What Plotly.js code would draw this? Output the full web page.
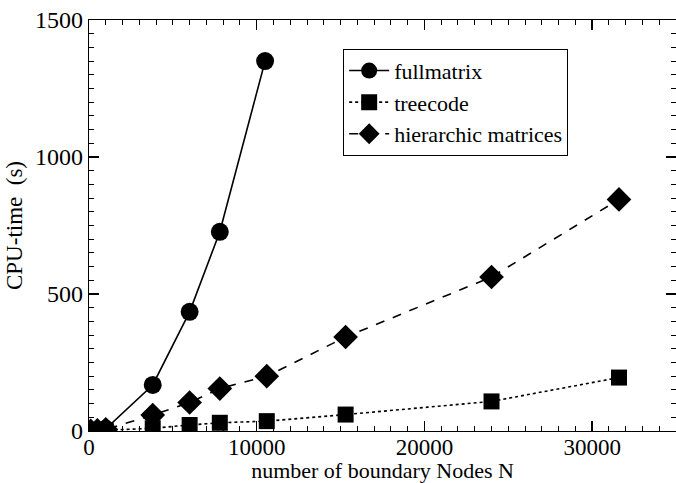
<!DOCTYPE html>
<html>
<head>
<meta charset="utf-8">
<script src="https://cdn.plot.ly/plotly-3.0.1.min.js"></script>
<style>html,body{margin:0;padding:0;background:#fff;}#chart{width:676px;height:483px;}</style>
</head>
<body>
<div id="chart"></div>
<script>
// Data
const fullN = [100, 500, 1000, 3800, 6000, 7800, 10500];
const fullT = [0.2, 2, 8, 168, 435, 727, 1350];
const treeN = [100, 500, 1000, 3800, 6000, 7800, 10600, 15300, 24000, 31600];
const treeT = [0.2, 1, 2, 10, 22, 30, 36, 60, 108, 195];
const hierN = [100, 500, 1000, 3800, 6000, 7800, 10600, 15300, 24000, 31600];
const hierT = [0.5, 2, 6, 58, 104, 155, 200, 343, 562, 845];
const names = ["fullmatrix", "treecode", "hierarchic matrices"];
const xTicks = [0, 10000, 20000, 30000];
const xTickText = ["0", "10000", "20000", "30000"];
const yTicks = [0, 500, 1000, 1500];

const font = "Liberation Serif";

const traces = [
  {x: fullN, y: fullT, name: names[0], mode: "lines+markers",
   line: {color: "#000", width: 1.6, dash: "solid"},
   marker: {symbol: "circle", size: 18, color: "#000"}},
  {x: treeN, y: treeT, name: names[1], mode: "lines+markers",
   line: {color: "#000", width: 1.6, dash: "dot"},
   marker: {symbol: "square", size: 16, color: "#000"}},
  {x: hierN, y: hierT, name: names[2], mode: "lines+markers",
   line: {color: "#000", width: 1.6, dash: "dash"},
   marker: {symbol: "diamond", size: 19, color: "#000"}}
];

const axisCommon = {
  showgrid: false, zeroline: false, showline: true, linecolor: "#000", linewidth: 1.3,
  ticks: "inside", ticklen: 10, tickwidth: 1.3, tickcolor: "#000", mirror: "allticks",
  tickfont: {family: font, size: 24, color: "#000"}, automargin: false
};

const layout = {
  width: 676, height: 483,
  margin: {l: 89, r: 0, t: 20, b: 52},
  paper_bgcolor: "#fff", plot_bgcolor: "#fff",
  font: {family: font, color: "#000"},
  xaxis: Object.assign({}, axisCommon, {
    range: [0, 35000], tickvals: xTicks, ticktext: xTickText, ticklabelstandoff: -5,
    tickfont: {family: font, size: 23, color: "#000"},
    minor: {dtick: 1000, tick0: 0, ticks: "inside", ticklen: 5, tickwidth: 1, tickcolor: "#000"},
    title: {text: "number of boundary Nodes N", font: {family: font, size: 22, color: "#000"}, standoff: 0}
  }),
  yaxis: Object.assign({}, axisCommon, {
    range: [0, 1500], tickvals: yTicks,
    minor: {dtick: 50, tick0: 0, ticks: "inside", ticklen: 5, tickwidth: 1, tickcolor: "#000"},
    title: {text: "CPU-time  (s)", font: {family: font, size: 23, color: "#000"}, standoff: 6}
  }),
  showlegend: true,
  legend: {x: 0.433, y: 0.93, xanchor: "left", yanchor: "top",
    bgcolor: "#fff", bordercolor: "#000", borderwidth: 1,
    font: {family: font, size: 22, color: "#000"},
    tracegroupgap: 0, itemwidth: 40}
};

Plotly.newPlot("chart", traces, layout, {staticPlot: true, displayModeBar: false});
</script>
</body>
</html>
